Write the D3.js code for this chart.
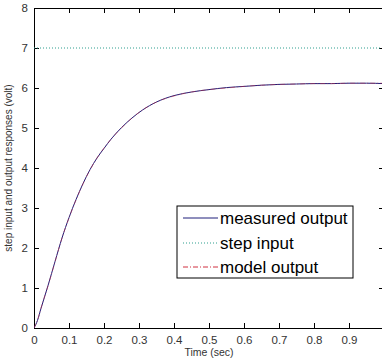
<!DOCTYPE html>
<html><head><meta charset="utf-8">
<script src="https://cdn.jsdelivr.net/npm/d3@7"></script>
<style>body{margin:0;background:#fff}svg{display:block;font-family:"Liberation Sans",Arial,sans-serif}</style>
</head><body><svg id="c" width="382" height="362"></svg>
<script>
const timeS = [0,0.01,0.02,0.04,0.06,0.08,0.10,0.12,0.14,0.16,0.18,0.20,0.22,0.25,0.28,0.31,0.35,0.40,0.45,0.50,0.55,0.60,0.65,0.70,0.75,0.80,0.85,0.90,0.95,1.00];
const measured = [0,0.19,0.49,1.06,1.66,2.25,2.76,3.21,3.61,3.96,4.25,4.49,4.72,5.01,5.25,5.45,5.65,5.81,5.90,5.96,6.01,6.04,6.07,6.09,6.10,6.11,6.11,6.12,6.12,6.11];
const model    = [0,0.2,0.5,1.05,1.65,2.25,2.75,3.2,3.6,3.95,4.25,4.5,4.72,5.0,5.25,5.45,5.65,5.8,5.9,5.96,6.0,6.04,6.07,6.09,6.1,6.11,6.11,6.12,6.12,6.12];
const stepT = [0,1];
const stepV = [7,7];
const xTicks = [0,0.1,0.2,0.3,0.4,0.5,0.6,0.7,0.8,0.9,1];
const xTickLabels = ["0","0.1","0.2","0.3","0.4","0.5","0.6","0.7","0.8","0.9",""];
const yTicks = [0,1,2,3,4,5,6,7,8];
const legendLabels = ["measured output","step input","model output"];

const svg = d3.select("#c");
const x = d3.scaleLinear().domain([0,1]).range([34,384]);
const y = d3.scaleLinear().domain([0,8]).range([328,8]);

svg.append("defs").append("clipPath").attr("id","cp").append("rect")
  .attr("x",34).attr("y",8).attr("width",350).attr("height",320);

const fmt = d => d===0?"0":String(d);
svg.append("g").attr("transform","translate(0,328)")
  .call(d3.axisBottom(x).tickValues(xTicks).tickFormat((d,i)=>xTickLabels[i]).tickSizeInner(-5).tickSizeOuter(0).tickPadding(8));
svg.append("g").attr("transform","translate(0,8)")
  .call(d3.axisTop(x).tickValues(xTicks).tickFormat("").tickSizeInner(-5).tickSizeOuter(0));
svg.append("g").attr("transform","translate(34,0)")
  .call(d3.axisLeft(y).tickValues(yTicks).tickFormat(fmt).tickSizeInner(-5).tickSizeOuter(0).tickPadding(6));
svg.append("g").attr("transform","translate(384,0)")
  .call(d3.axisRight(y).tickValues(yTicks).tickFormat("").tickSizeInner(-5).tickSizeOuter(0));
svg.selectAll(".domain").attr("stroke","#000");
svg.selectAll(".tick line").attr("stroke","#000");
svg.selectAll(".tick text").attr("fill","#333").style("font-size","11.5px").style("font-family","'Liberation Sans',Arial,sans-serif");

const plot = svg.append("g").attr("clip-path","url(#cp)");
const line = d3.line().x(d=>x(d[0])).y(d=>y(d[1]));
const smooth = d3.line().x(d=>x(d[0])).y(d=>y(d[1])).curve(d3.curveMonotoneX);
plot.append("path").datum(stepT.map((t,i)=>[t,stepV[i]])).attr("d",line)
  .attr("fill","none").attr("stroke","#2f9f8f").attr("stroke-width",1).attr("stroke-dasharray","1,2");
plot.append("path").datum(timeS.map((t,i)=>[t,measured[i]])).attr("d",smooth)
  .attr("fill","none").attr("stroke","#1e1e7a").attr("stroke-width",1);
plot.append("path").datum(timeS.map((t,i)=>[t,model[i]])).attr("d",smooth)
  .attr("fill","none").attr("stroke","#d03040").attr("stroke-width",0.8).attr("stroke-dasharray","5,2,1,2").attr("opacity",0.6);

svg.append("text").attr("x",x(0.5)).attr("y",356).attr("text-anchor","middle")
  .style("font-size","10.5px").attr("fill","#333").text("Time (sec)");
svg.append("text").attr("transform","translate(12,168) rotate(-90)").attr("text-anchor","middle")
  .style("font-size","10px").attr("fill","#333").text("step input and output responses (volt)");

const lg = svg.append("g");
lg.append("rect").attr("x",177).attr("y",206).attr("width",176).attr("height",72)
  .attr("fill","#fff").attr("stroke","#000").attr("stroke-width",1);
const styles = [
  {c:"#1e1e7a",d:null},
  {c:"#2f9f8f",d:"1,2"},
  {c:"#d03040",d:"5,2,1,2"}
];
const rowY = [218,243,267];
legendLabels.forEach((lab,i)=>{
  const l = lg.append("line").attr("x1",183).attr("x2",218).attr("y1",rowY[i]).attr("y2",rowY[i])
    .attr("stroke",styles[i].c).attr("stroke-width",1);
  if(styles[i].d) l.attr("stroke-dasharray",styles[i].d);
  lg.append("text").attr("x",220).attr("y",rowY[i]+6).style("font-size","17px").attr("fill","#000").text(lab);
});
</script></body></html>
